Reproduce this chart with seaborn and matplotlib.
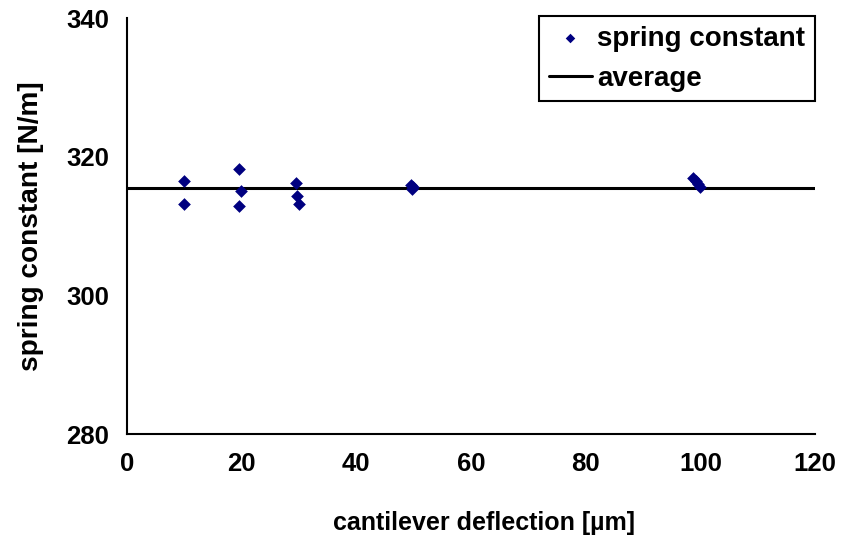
import matplotlib
matplotlib.use("Agg")
import matplotlib.pyplot as plt
import seaborn as sns
import pandas as pd

# Measured spring constants at each cantilever deflection
deflection_um = [10.0, 10.0, 19.5, 19.8, 19.5, 29.4, 29.7, 30.0,
                 49.6, 49.8, 49.7, 98.7, 99.2, 99.6, 100.0]
spring_constant = [316.5, 313.2, 318.2, 315.0, 312.9, 316.25, 314.3, 313.2,
                   315.9, 315.6, 315.3, 316.9, 316.5, 316.0, 315.6]
average_value = 315.5
x_ticks = [0, 20, 40, 60, 80, 100, 120]
y_ticks = [280, 300, 320, 340]

sns.set_style("white")
plt.rcParams['font.family'] = ['Liberation Sans', 'DejaVu Sans']
plt.rcParams['font.weight'] = 'bold'
plt.rcParams['text.color'] = 'black'
plt.rcParams['axes.labelcolor'] = 'black'
plt.rcParams['xtick.color'] = 'black'
plt.rcParams['ytick.color'] = 'black'

fig = plt.figure(figsize=(8.41, 5.44), dpi=100)
ax = fig.add_axes([127 / 841, 1 - 434 / 544, (815 - 127) / 841, (434 - 18) / 544])

df = pd.DataFrame({"deflection": deflection_um, "k": spring_constant})
avg_df = pd.DataFrame({"deflection": [x_ticks[0], x_ticks[-1]],
                       "k": [average_value, average_value]})

sns.lineplot(data=avg_df, x="deflection", y="k", ax=ax, color="black",
             linewidth=2.2, label="average", zorder=2)
sns.scatterplot(data=df, x="deflection", y="k", ax=ax, marker="D",
                color="#000080", s=42, linewidth=0, label="spring constant",
                zorder=3)

ax.set_xlim(x_ticks[0], x_ticks[-1])
ax.set_ylim(y_ticks[0], y_ticks[-1])
ax.set_xticks(x_ticks)
ax.set_yticks(y_ticks)
ax.tick_params(axis="both", direction="out", length=7, width=1.5,
               labelsize=18.5, pad=6, colors="black")
for lbl in ax.get_xticklabels() + ax.get_yticklabels():
    lbl.set_fontweight("bold")
    lbl.set_color("black")

for side in ["top", "right"]:
    ax.spines[side].set_visible(False)
for side in ["left", "bottom"]:
    ax.spines[side].set_color("black")
    ax.spines[side].set_linewidth(1.5)

ax.set_xlabel("cantilever deflection [µm]", fontsize=18, fontweight="bold",
              color="black")
ax.xaxis.set_label_coords(0.519, -0.185)
ax.set_ylabel("spring constant [N/m]", fontsize=20.2, fontweight="bold",
              color="black")
ax.yaxis.set_label_coords(-0.121, 0.5)

handles, labels = ax.get_legend_handles_labels()
order = [labels.index("spring constant"), labels.index("average")]
leg = ax.legend([handles[i] for i in order], [labels[i] for i in order],
                loc="upper right", bbox_to_anchor=(1.0, 1.005),
                borderaxespad=0, fancybox=False, framealpha=1,
                edgecolor="black", fontsize=20, handlelength=1.55,
                handletextpad=0.2, borderpad=0.35, labelspacing=0.5,
                markerscale=0.75)
leg.get_frame().set_linewidth(1.5)
for t in leg.get_texts():
    t.set_fontweight("bold")
    t.set_color("black")

fig.savefig("out.png", dpi=100)
